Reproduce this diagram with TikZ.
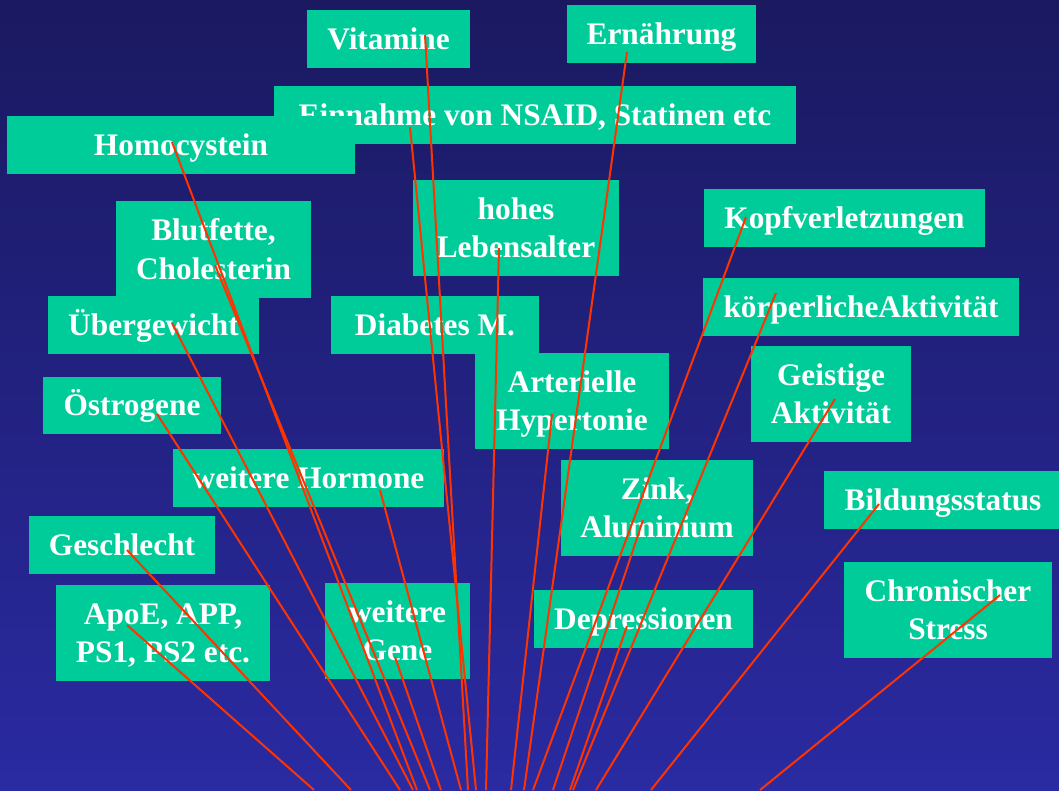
\documentclass[tikz,border=0pt]{standalone}
\usepackage{fontspec}
\setmainfont{Liberation Serif}
\definecolor{bgtop}{HTML}{1A1960}
\definecolor{bgbot}{HTML}{2A2AA2}
\definecolor{boxgreen}{HTML}{00CC99}
\definecolor{linkred}{HTML}{FF3300}
\newcommand\capst{\rule[-0.25em]{0pt}{1.162em}}
\tikzset{
  fbox/.style={rectangle, fill=boxgreen, draw=none, inner sep=0pt, text=white,
    font=\fontsize{23.5pt}{28.7pt}\selectfont\bfseries, align=center},
  sz/.style 2 args={minimum width=#1*0.75pt, minimum height=#2*0.75pt},
  link/.style={draw=linkred, line width=1.5pt},
}
\begin{document}
\begin{tikzpicture}[x=0.75pt,y=-0.75pt]
\useasboundingbox (0,0) rectangle (1059,790);
\shade[top color=bgtop, bottom color=bgbot] (0,0) rectangle (1059,790);
\begin{scope}
\clip (0,0) rectangle (1059,790);
% boxes
\node[fbox, sz={163}{58}] (vit) at (388.5,39) {\capst Vitamine};
\node[fbox, sz={189}{58}] (ern) at (661.5,34) {\capst Ernährung};
\node[fbox, sz={522}{58}] (ein) at (535,115) {\capst Einnahme von NSAID, Statinen etc};
\node[fbox, sz={348}{58}] (hom) at (181,145) {\capst Homocystein};
\node[fbox, sz={195}{97}] (blu) at (213.5,249.5) {\capst Blutfette,\\\capst Cholesterin};
\node[fbox, sz={211}{58}] (ueb) at (153.5,325) {\capst Übergewicht};
\node[fbox, sz={178}{57}] (oes) at (132,405.5) {\capst Östrogene};
\node[fbox, sz={206}{96}] (hoh) at (516,228) {\capst hohes\\\capst Lebensalter};
\node[fbox, sz={208}{58}] (dia) at (435,325) {\capst Diabetes M.};
\node[fbox, sz={194}{96}] (art) at (572,401) {\capst Arterielle\\\capst Hypertonie};
\node[fbox, sz={281}{58}] (kop) at (844.5,218) {\capst Kopfverletzungen};
\node[fbox, sz={316}{58}] (koe) at (861,307) {\capst körperlicheAktivität};
\node[fbox, sz={160}{96}] (gei) at (831,394) {\capst Geistige\\\capst Aktivität};
\node[fbox, sz={271}{58}] (hor) at (308.5,478) {\capst weitere Hormone};
\node[fbox, sz={186}{58}] (ges) at (122,545) {\capst Geschlecht};
\node[fbox, sz={214}{96}] (apo) at (163,633) {\capst ApoE, APP,\\\capst PS1, PS2 etc.};
\node[fbox, sz={145}{96}] (gen) at (397.5,631) {\capst weitere\\\capst Gene};
\node[fbox, sz={192}{96}] (zin) at (657,508) {\capst Zink,\\\capst Aluminium};
\node[fbox, sz={219}{58}] (dep) at (643.5,619) {\capst Depressionen};
\node[fbox, sz={238}{58}] (bil) at (943,500) {\capst Bildungsstatus};
\node[fbox, sz={208}{96}] (chr) at (948,610) {\capst Chronischer\\\capst Stress};
% line start points inside the boxes
\coordinate (svit) at (425,35);
\coordinate (sern) at (627,52);
\coordinate (sein) at (410,127);
\coordinate (shom) at (172,142);
\coordinate (sblu) at (215,265);
\coordinate (sueb) at (172,323);
\coordinate (soes) at (157,414);
\coordinate (shor) at (380,490);
\coordinate (sges) at (127,550);
\coordinate (sapo) at (127,625);
\coordinate (sgen) at (395,657);
\coordinate (shoh) at (499,248);
\coordinate (sart) at (552,414);
\coordinate (skop) at (746,217);
\coordinate (skoe) at (776,293);
\coordinate (sgei) at (835,399);
\coordinate (szin) at (643,520);
\coordinate (sdep) at (627,626);
\coordinate (sbil) at (879,504);
\coordinate (schr) at (1000,595);
% line end points at the lower edge
\coordinate (evit) at (468,790);
\coordinate (eern) at (524,790);
\coordinate (eein) at (476,790);
\coordinate (ehom) at (417,790);
\coordinate (eblu) at (430,790);
\coordinate (eueb) at (413,790);
\coordinate (eoes) at (400,790);
\coordinate (ehor) at (461,790);
\coordinate (eges) at (351,790);
\coordinate (eapo) at (314,790);
\coordinate (egen) at (441,790);
\coordinate (ehoh) at (486,790);
\coordinate (eart) at (511,790);
\coordinate (ekop) at (533,790);
\coordinate (ekoe) at (573,790);
\coordinate (egei) at (596,790);
\coordinate (ezin) at (553,790);
\coordinate (edep) at (570,790);
\coordinate (ebil) at (651,790);
\coordinate (echr) at (760,790);
\foreach \n in {vit,ern,ein,hom,blu,ueb,oes,hor,ges,apo,gen,hoh,art,kop,koe,gei,zin,dep,bil,chr}
  \draw[link] (s\n) -- (e\n);
\end{scope}
\end{tikzpicture}
\end{document}
